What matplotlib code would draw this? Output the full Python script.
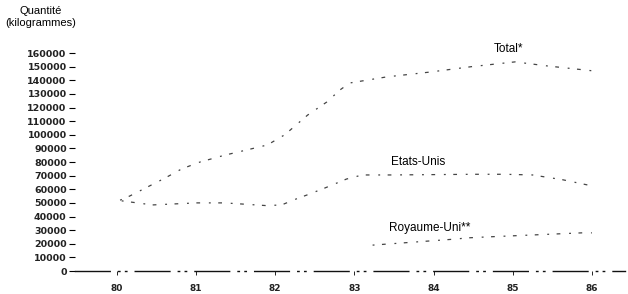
import matplotlib
matplotlib.use("Agg")
import matplotlib.pyplot as plt

# annees (decimal) et quantites
total_x = [80.04, 80.16, 80.6, 80.82, 81.05, 81.36, 81.65, 81.9, 82.12, 82.41,
           82.65, 82.82, 82.94, 83.41, 83.95, 84.48, 85.03, 85.44, 86.0]
total_y = [52000, 55000, 68000, 75000, 80000, 85000, 89000, 92500, 100000, 114500,
           124000, 133000, 138000, 142500, 146000, 150000, 153500, 150500, 147000]

us_x = [80.06, 80.45, 81.01, 81.36, 81.89, 82.08, 82.27, 82.41, 82.63, 82.9,
        83.1, 83.45, 84.52, 84.9, 85.25, 85.63, 86.0]
us_y = [51500, 48500, 50000, 50000, 48000, 48500, 53000, 56000, 61000, 67500,
        70500, 70500, 71000, 71000, 70500, 67000, 62500]

uk_x = [83.23, 84.29, 84.42, 84.67, 85.87, 86.0]
uk_y = [19000, 23500, 24300, 25000, 28000, 28000]

years = [80, 81, 82, 83, 84, 85, 86]
year_labels = ["80", "81", "82", "83", "84", "85", "86"]
yticks = list(range(0, 160001, 10000))

fig = plt.figure(figsize=(6.28, 2.94), dpi=100)
ax = fig.add_axes([0.1194, 0.0782, 0.876, 0.7646])

style = dict(color="#444444", lw=0.9, linestyle=(0, (1.5, 6, 3, 7)))
ax.plot(total_x, total_y, **style)
ax.plot(us_x, us_y, **style)
ax.plot(uk_x, uk_y, **style)

ax.set_xlim(79.47, 86.42)
ax.set_ylim(0, 165000)

for s in ["top", "right", "left"]:
    ax.spines[s].set_visible(False)
ax.spines["bottom"].set_linewidth(1.0)
ax.spines["bottom"].set_linestyle((0, (25, 6, 1, 4, 1, 6)))
ax.spines["bottom"].set_color("#111111")

ax.set_yticks(yticks)
ax.set_yticklabels([str(v) for v in yticks], fontsize=6.8, fontweight="bold",
                   family="DejaVu Sans", color="#222222")
ax.tick_params(axis="y", length=4, width=0.8, pad=2, direction="out")
ax.set_xticks(years)
ax.set_xticklabels(year_labels, fontsize=6.5, fontweight="bold",
                   family="DejaVu Sans", color="#222222")
ax.tick_params(axis="x", length=3, width=0.6, pad=6)

lab = dict(fontsize=8.5, family="Liberation Sans", ha="center", va="center")
ax.text(84.95, 163000, "Total*", **lab)
ax.text(83.8, 80300, "Etats-Unis", **lab)
ax.text(83.95, 31500, "Royaume-Uni**", **lab)

fig.text(0.064, 0.962, "Quantité", fontsize=8, family="Liberation Sans",
         ha="center", va="center")
fig.text(0.064, 0.922, "(kilogrammes)", fontsize=8, family="Liberation Sans",
         ha="center", va="center")

fig.savefig("out.png", dpi=100, facecolor="white")
